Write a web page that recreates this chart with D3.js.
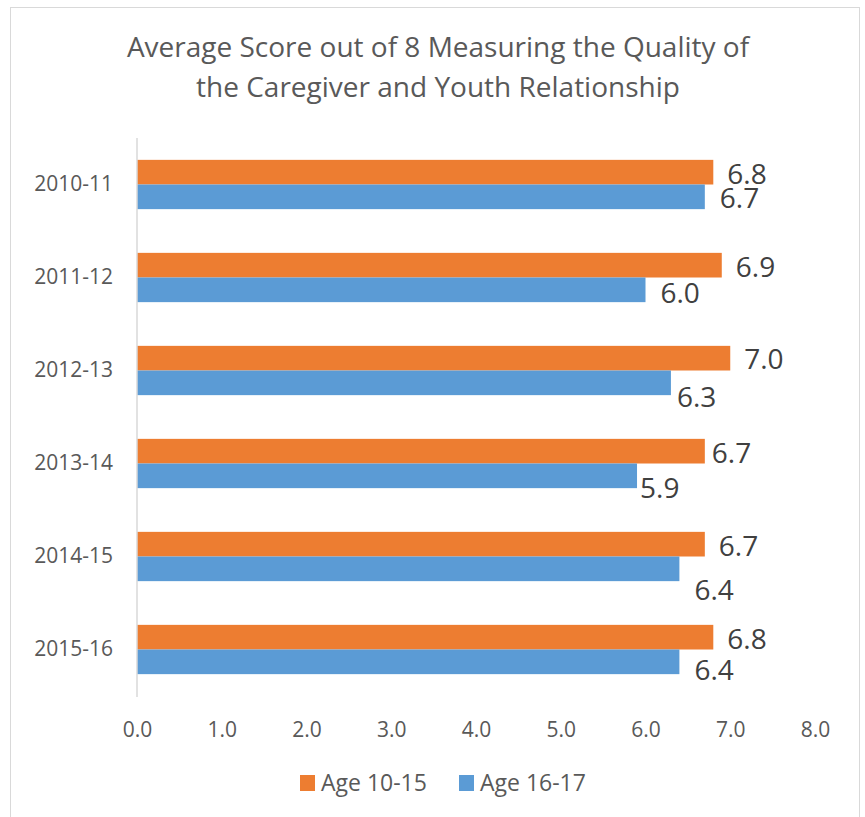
<!DOCTYPE html>
<html><head><meta charset="utf-8">
<script src="https://cdn.jsdelivr.net/npm/d3@7"></script>
<style>body{margin:0;background:#fff}svg{display:block}text{font-family:"Open Sans",sans-serif}</style>
</head><body>
<svg id="c" width="865" height="817"></svg>
<script>
const categories = ["2010-11","2011-12","2012-13","2013-14","2014-15","2015-16"];
const seriesNames = ["Age 10-15","Age 16-17"];
const age1015 = [6.8,6.9,7.0,6.7,6.7,6.8];
const age1617 = [6.7,6.0,6.3,5.9,6.4,6.4];
const xTicks = [0,1,2,3,4,5,6,7,8];
const titleLines = ["Average Score out of 8 Measuring the Quality of","the Caregiver and Youth Relationship"];
const colors = ["#ED7D31","#5B9BD5"];
// manual label nudges (layout only), px, per series per category
const labelDx = [[0,0,0,-7,0,0],[1,1,-8,-11,1,1]];
const labelDy = [[2,1.5,1,1.5,1.5,2],[1,3,14,12,21,8]];

const svg = d3.select("#c");
svg.append("rect").attr("x",10.5).attr("y",7.5).attr("width",849).attr("height",830)
  .attr("fill","#fff").attr("stroke","#d9d9d9").attr("stroke-width",1);

svg.append("text").attr("text-anchor","middle")
  .attr("fill","#595959").attr("font-size",28)
  .selectAll("tspan").data(titleLines).join("tspan")
  .attr("x",438).attr("y",(d,i)=>57+i*40).text(d=>d);

const x = d3.scaleLinear().domain([0,8]).range([137,815]);
const y = d3.scaleBand().domain(categories).range([138,696]).paddingInner(0.47).paddingOuter(0.235);
const ySub = d3.scaleBand().domain(seriesNames).range([0,y.bandwidth()]);

const data = categories.map((c,i)=>({c, i, vals:[
  {s:seriesNames[0],k:0,v:age1015[i],ci:i},
  {s:seriesNames[1],k:1,v:age1617[i],ci:i}]}));

const g = svg.append("g").selectAll("g").data(data).join("g")
  .attr("transform",d=>`translate(0,${y(d.c)})`);
g.selectAll("rect").data(d=>d.vals).join("rect")
  .attr("x",x(0)).attr("y",d=>ySub(d.s)).attr("height",ySub.bandwidth())
  .attr("width",d=>x(d.v)-x(0)).attr("fill",d=>colors[d.k]);
g.selectAll("text").data(d=>d.vals).join("text")
  .attr("x",d=>x(d.v)+14+labelDx[d.k][d.ci])
  .attr("y",d=>ySub(d.s)+ySub.bandwidth()/2+labelDy[d.k][d.ci]).attr("dy","0.36em")
  .attr("font-size",28).attr("fill","#404040").text(d=>d.v.toFixed(1));

// y axis
const yAx = svg.append("g").attr("transform",`translate(${x(0)},0)`)
  .call(d3.axisLeft(y).tickSize(0).tickPadding(24));
yAx.select(".domain").attr("stroke","#d9d9d9").attr("stroke-width",1.5).attr("d","M0,138V697");
yAx.selectAll("text").attr("font-size",21).attr("fill","#595959").attr("font-family","Open Sans");

// x axis labels
const xAx = svg.append("g").attr("transform",`translate(0,722)`)
  .call(d3.axisBottom(x).tickValues(xTicks).tickSize(0).tickPadding(0).tickFormat(d3.format(".1f")));
xAx.select(".domain").remove();
xAx.selectAll("text").attr("font-size",21).attr("fill","#595959").attr("font-family","Open Sans");

// legend
const legX = [300,459];
const leg = svg.append("g").selectAll("g").data(seriesNames).join("g")
  .attr("transform",(d,i)=>`translate(${legX[i]},775)`);
leg.append("rect").attr("width",15).attr("height",16).attr("fill",(d,i)=>colors[i]);
leg.append("text").attr("x",21).attr("y",8).attr("dy","0.36em").attr("font-size",23)
  .attr("fill","#595959").text(d=>d);
</script>
</body></html>
